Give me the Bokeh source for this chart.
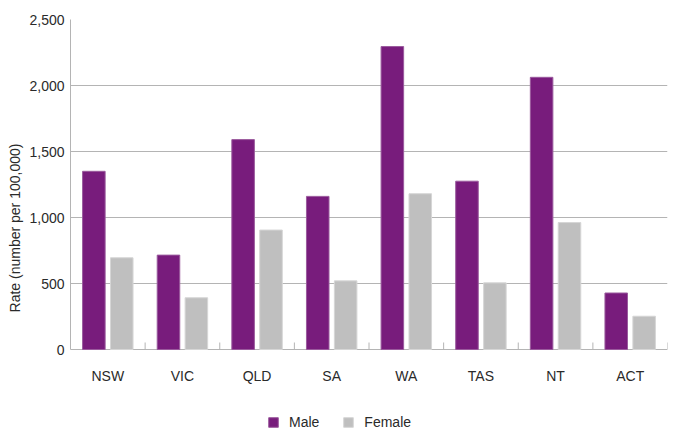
from bokeh.plotting import figure
from bokeh.models import (ColumnDataSource, Range1d, FixedTicker, Legend, LegendItem,
                          NumeralTickFormatter, LabelSet, Title)
from bokeh.core.properties import value
from bokeh.transform import dodge
from bokeh.embed import file_html
from bokeh.resources import INLINE

states = ["NSW", "VIC", "QLD", "SA", "WA", "TAS", "NT", "ACT"]
male = [1350, 715, 1590, 1160, 2295, 1275, 2062, 428]
female = [695, 392, 905, 520, 1180, 505, 962, 252]
y_ticks = [0, 500, 1000, 1500, 2000, 2500]
y_max = 2500

MALE_C = "#781c7c"
FEMALE_C = "#bfbfbf"
MALE_EDGE = "#9a5a9d"
FEMALE_EDGE = "#d6d6d6"
GRID_C = "#b4b4b4"
TEXT_C = "#2a2a2a"
FONT = "Liberation Sans"
FS = "14px"

# layout (pixels)
TOP = 19
LEFT = 69
CHART_H = 330          # height of the 0..y_max value area
BELOW_H = 87           # room under the baseline for labels and legend
W = 668

xpos = [i + 0.5 for i in range(len(states))]
src = ColumnDataSource(dict(x=xpos, male=male, female=female, state=states))

y_start = -y_max * BELOW_H / CHART_H
p = figure(width=W, height=TOP + CHART_H + BELOW_H, output_backend="svg",
           toolbar_location=None, x_axis_location=None,
           x_range=Range1d(0, len(states)), y_range=Range1d(y_start, y_max),
           min_border_left=LEFT, min_border_right=1, min_border_top=TOP,
           min_border_bottom=0, sizing_mode="fixed")
p.outline_line_color = None
p.background_fill_color = "white"
p.border_fill_color = "white"

r_m = p.vbar(x=dodge("x", -0.187, range=p.x_range), top="male", width=0.302, bottom=0,
             source=src, fill_color=MALE_C, line_color=MALE_EDGE, line_width=1)
r_f = p.vbar(x=dodge("x", 0.187, range=p.x_range), top="female", width=0.302, bottom=0,
             source=src, fill_color=FEMALE_C, line_color=FEMALE_EDGE, line_width=1)

# category tick marks at the boundaries, pointing up from the baseline
p.ray(x=list(range(len(states) + 1)), y=0, length=7, length_units="screen",
      angle=90, angle_units="deg", line_color=GRID_C, line_width=1)

# category labels under the baseline
labels = LabelSet(x="x", y=0, text="state", source=src, y_offset=-26,
                  text_align="center", text_baseline="middle",
                  text_font=value(FONT), text_font_size=value(FS),
                  text_color=value(TEXT_C))
p.add_layout(labels)

ya = p.yaxis[0]
ya.bounds = (0, y_max)
ya.ticker = FixedTicker(ticks=y_ticks)
ya.formatter = NumeralTickFormatter(format="0,0")
ya.major_tick_line_color = None
ya.major_tick_in = 0
ya.major_tick_out = 0
ya.minor_tick_line_color = None
ya.minor_tick_in = 0
ya.minor_tick_out = 0
ya.axis_line_color = GRID_C
ya.major_label_standoff = 6
ya.major_label_text_font = FONT
ya.major_label_text_font_size = FS
ya.major_label_text_color = TEXT_C

p.xgrid.grid_line_color = None
p.ygrid.grid_line_color = GRID_C
p.ygrid.ticker = FixedTicker(ticks=y_ticks)

# y axis title, centred on the value area
ytitle = Title(text="Rate (number per 100,000)", align="center",
               offset=55, standoff=8,
               text_font=FONT, text_font_size=FS, text_font_style="normal",
               text_color=TEXT_C)
p.add_layout(ytitle, "left")

legend = Legend(items=[LegendItem(label="Male", renderers=[r_m]),
                       LegendItem(label="Female", renderers=[r_f])],
                orientation="horizontal", location=(197, 6),
                label_text_font=FONT, label_text_font_size=FS,
                label_text_color=TEXT_C, glyph_width=12, glyph_height=12,
                label_standoff=10, spacing=23, border_line_color=None,
                background_fill_alpha=0, margin=0, padding=4)
p.add_layout(legend, "center")

open("out.html", "w").write(file_html(p, INLINE))
